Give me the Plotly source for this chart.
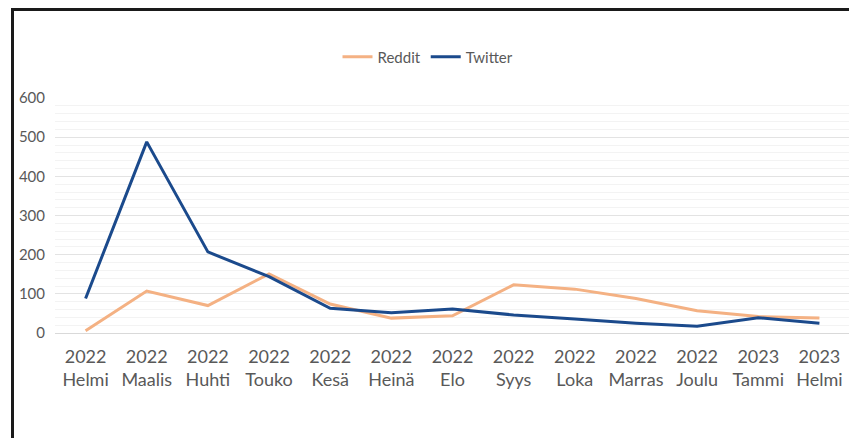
import plotly.graph_objects as go

years = ["2022"] * 11 + ["2023"] * 2
months = ["Helmi", "Maalis", "Huhti", "Touko", "Kesä", "Heinä", "Elo",
          "Syys", "Loka", "Marras", "Joulu", "Tammi", "Helmi"]
categories = [f"{y}<br>{m}" for y, m in zip(years, months)]
reddit = [6, 107, 70, 151, 74, 38, 44, 123, 112, 88, 57, 42, 38]
twitter = [88, 488, 207, 144, 63, 52, 61, 46, 36, 25, 17, 39, 25]
x_idx = list(range(len(categories)))

fig = go.Figure()
fig.add_trace(go.Scatter(x=x_idx, y=reddit, mode="lines", name="Reddit",
                         line=dict(color="#f4b183", width=3)))
fig.add_trace(go.Scatter(x=x_idx, y=twitter, mode="lines", name="Twitter",
                         line=dict(color="#1b4a8c", width=3)))

# page body has an 8px margin, so the figure is drawn 8px right/down
W, H = 849, 430
L, R, T, B = 47, 7, 90, 105
pw, ph = W - L - R, H - T - B

font_fam = "Lato, 'Open Sans', sans-serif"
fig.update_layout(
    width=W, height=H,
    margin=dict(l=L, r=R, t=T, b=B),
    paper_bgcolor="white", plot_bgcolor="white",
    font=dict(family=font_fam, color="#595959"),
    showlegend=True,
    legend=dict(orientation="h", x=(428 - 8 - L) / pw, xanchor="center",
                y=1 + (T - (57 - 8)) / ph, yanchor="middle",
                font=dict(size=15, color="#595959"), itemwidth=30,
                tracegroupgap=0, itemclick=False),
    xaxis=dict(tickmode="array", tickvals=x_idx, ticktext=categories,
               range=[-0.5, 12.5], showgrid=False, zeroline=False,
               showline=False, ticks="", ticklabelstandoff=11,
               tickfont=dict(size=18, color="#595959")),
    yaxis=dict(range=[0, 600], dtick=100, tick0=0, showgrid=True,
               gridcolor="#e3e3e3", gridwidth=1, zeroline=True,
               zerolinecolor="#d9d9d9", zerolinewidth=1, ticks="",
               ticklabelstandoff=9,
               tickfont=dict(size=15, color="#595959"),
               minor=dict(dtick=20, showgrid=True, gridcolor="#f3f3f3", gridwidth=1)),
    shapes=[dict(type="rect", xref="paper", yref="paper",
                 x0=(4.5 - L) / pw, x1=(844 - L) / pw,
                 y0=-0.6, y1=(T + ph - 1.5) / ph,
                 line=dict(color="#1a1a1a", width=3), fillcolor="rgba(0,0,0,0)",
                 layer="above")],
)

fig.write_html("out.html")
